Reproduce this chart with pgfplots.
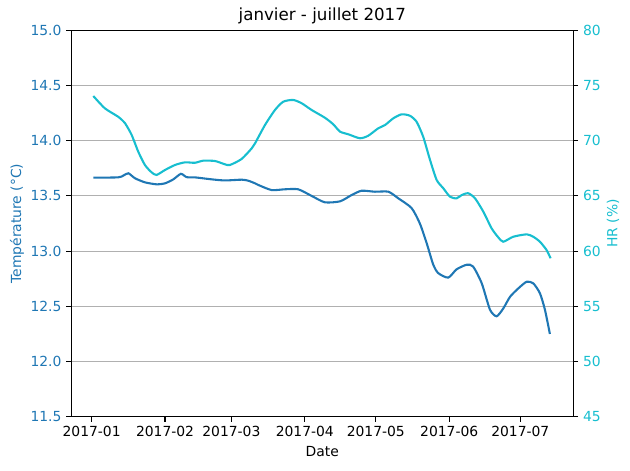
\documentclass[border=0pt]{standalone}
\usepackage{fontspec}
\setmainfont{DejaVu Sans}
\usepackage{pgfplots}
\pgfplotsset{compat=1.18}
\definecolor{tabblue}{HTML}{1F77B4}
\definecolor{tabcyan}{HTML}{17BECF}
\definecolor{gridgray}{HTML}{B0B0B0}

\pgfplotstableread{
day temp
0.7 13.665
11.2 13.668
13.3 13.683
15.5 13.705
18.3 13.66
22.5 13.623
27.4 13.605
31.0 13.614
34.5 13.65
37.7 13.70
40.1 13.67
43.6 13.668
50.7 13.65
56.3 13.64
63.3 13.647
66.1 13.638
69.0 13.614
70.4 13.599
76.0 13.553
81.6 13.56
87.2 13.56
92.9 13.50
98.5 13.442
104.9 13.451
109.8 13.508
114.0 13.547
119.6 13.538
125.3 13.538
129.5 13.478
135.1 13.39
138.6 13.25
141.5 13.07
144.3 12.874
146.4 12.80
150.6 12.76
154.1 12.835
158.4 12.877
161.1 12.86
164.7 12.71
168.2 12.47
171.0 12.41
173.8 12.48
176.7 12.587
180.2 12.663
183.7 12.723
186.5 12.708
189.3 12.618
191.4 12.47
193.5 12.25
}\temptable

\pgfplotstableread{
day hr
0.7 74.05
5.6 72.93
11.2 72.17
14.1 71.58
16.9 70.52
19.7 69.0
22.5 67.8
25.3 67.14
27.4 66.9
31.0 67.35
35.2 67.8
39.4 68.04
43.6 68.0
47.1 68.19
52.1 68.16
56.3 67.86
58.4 67.8
63.3 68.34
67.6 69.31
69.0 69.76
73.2 71.42
77.4 72.78
80.9 73.53
85.1 73.69
88.7 73.39
92.9 72.78
98.5 72.08
102.0 71.49
104.9 70.82
108.4 70.58
113.3 70.22
116.8 70.45
121.0 71.12
123.9 71.42
127.4 72.03
130.9 72.39
134.4 72.26
137.2 71.72
140.0 70.36
142.9 68.25
145.7 66.44
148.5 65.69
151.3 64.93
154.1 64.78
156.3 65.08
159.0 65.24
161.9 64.78
165.4 63.57
168.9 62.06
171.7 61.25
173.8 60.85
178.0 61.30
183.7 61.52
186.5 61.30
189.3 60.85
192.1 60.10
193.8 59.35
}\hrtable

\begin{document}
\begin{tikzpicture}
\pgfplotsset{
  base/.style={
    scale only axis, width=361.4pt, height=278.2pt,
    xmin=-8.6, xmax=203.4,
    font=\fontsize{10}{12}\selectfont,
    tick align=outside, major tick length=3.5pt,
    /pgf/number format/assume math mode=true,
    tick style={line width=0.8pt, black},
    axis line style={line width=0.8pt, black},
  }
}
\begin{axis}[base, name=main,
  ymin=11.5, ymax=15,
  ytick={11.5,12,12.5,13,13.5,14,14.5,15},
  yticklabel style={text=tabblue, /pgf/number format/fixed, /pgf/number format/fixed zerofill, /pgf/number format/precision=1},
  xtick={0,31,59,90,120,151,181},
  xticklabels={2017-01,2017-02,2017-03,2017-04,2017-05,2017-06,2017-07},
  xtick pos=bottom, ytick pos=left,
  ymajorgrids, grid style={gridgray, line width=0.8pt},
  xlabel={Date},
  ylabel={Température (°C)},
  ylabel style={text=tabblue, xshift=0pt, yshift=-2.2pt},
  title={janvier - juillet 2017},
  every axis title/.style={font=\fontsize{12}{14}\selectfont, at={(0.5,1)}, anchor=base, yshift=6.9pt},
]
\addplot[tabblue, line width=1.5pt, smooth, tension=0.4] table[x=day, y=temp] {\temptable};
\end{axis}
\begin{axis}[base,
  ymin=45, ymax=80,
  ytick={45,50,55,60,65,70,75,80},
  axis y line*=right, axis x line=none,
  yticklabel style={text=tabcyan},
  ylabel={HR (\%)},
  ylabel style={text=tabcyan, yshift=2.5pt},
]
\addplot[tabcyan, line width=1.5pt, smooth, tension=0.4] table[x=day, y=hr] {\hrtable};
\end{axis}
\path ([shift={(-51.3pt,-38.4pt)}]main.south west) rectangle ([shift={(40.8pt,21.8pt)}]main.north east);
\end{tikzpicture}
\end{document}
